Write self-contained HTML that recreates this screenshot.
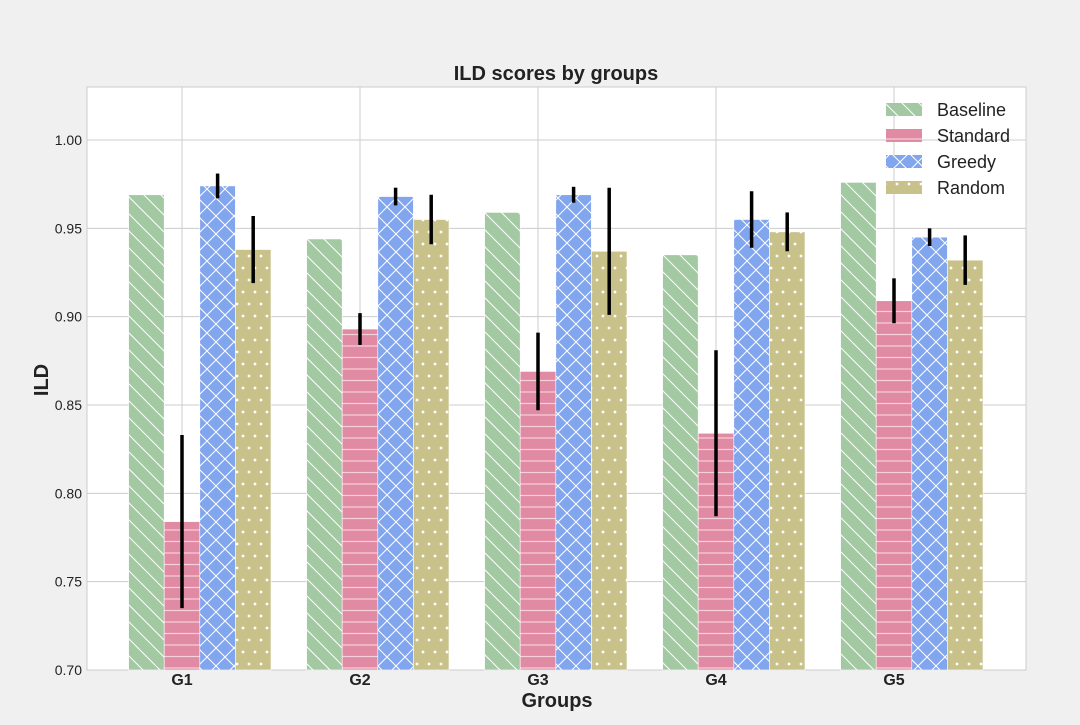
<!DOCTYPE html>
<html><head><meta charset="utf-8"><style>
body{margin:0;background:#f0f0f0;font-family:"Liberation Sans",sans-serif}
</style></head><body>
<svg width="1080" height="720" xmlns="http://www.w3.org/2000/svg">
<defs>
<pattern id="pB" width="17" height="17" patternUnits="userSpaceOnUse"><rect width="17" height="17" fill="#a3c9a3"/><path d="M0,0L17,17M-8.5,8.5L8.5,25.5M8.5,-8.5L25.5,8.5" stroke="#fff" stroke-width="1"/></pattern>
<pattern id="pS" width="12" height="11.5" patternUnits="userSpaceOnUse"><rect width="12" height="11.5" fill="#e08aa3"/><path d="M0,1L12,1" stroke="#f6d0da" stroke-width="1.2"/></pattern>
<pattern id="pG" width="18" height="18" patternUnits="userSpaceOnUse"><rect width="18" height="18" fill="#82a6ee"/><path d="M0,0L18,18M18,0L0,18" stroke="#fff" stroke-width="1"/></pattern>
<pattern id="pR" width="12" height="24" patternUnits="userSpaceOnUse"><rect width="12" height="24" fill="#c8c28a"/><circle cx="3" cy="4" r="1.4" fill="#fff"/><circle cx="9" cy="16" r="1.4" fill="#fff"/></pattern>
</defs>
<rect x="87" y="87" width="939" height="583" fill="#fff" stroke="#ccc"/>
<g id="grid"></g><g id="bars"></g><g id="errs"></g><g id="ticks"></g>
<text x="556" y="80" text-anchor="middle" font-size="20" font-weight="bold" fill="#222">ILD scores by groups</text>
<text x="557" y="707" text-anchor="middle" font-size="20" font-weight="bold" fill="#222">Groups</text>
<text transform="translate(48,380) rotate(-90)" text-anchor="middle" font-size="20" font-weight="bold" fill="#222">ILD</text>
<g id="legend"></g>
</svg>
<script>
const groups=["G1","G2","G3","G4","G5"];
const series=["Baseline","Standard","Greedy","Random"];
const baseline=[0.969,0.944,0.959,0.935,0.976];
const standard=[0.784,0.893,0.869,0.834,0.909];
const greedy=[0.974,0.968,0.969,0.955,0.945];
const random=[0.938,0.955,0.937,0.948,0.932];
const errBaseline=[0,0,0,0,0];
const errStandard=[0.049,0.009,0.022,0.047,0.0127];
const errGreedy=[0.007,0.005,0.0045,0.016,0.005];
const errRandom=[0.019,0.014,0.036,0.011,0.014];
const yTicks=[0.70,0.75,0.80,0.85,0.90,0.95,1.00];
const NS="http://www.w3.org/2000/svg";
const yMin=0.70,yMax=1.03,plotTop=87,plotBot=670;
const yS=v=>plotBot-(v-yMin)/(yMax-yMin)*(plotBot-plotTop);
const xC=i=>182+i*178;
const bw=35.6;
const vals=[baseline,standard,greedy,random],errs=[errBaseline,errStandard,errGreedy,errRandom];
const fills=["url(#pB)","url(#pS)","url(#pG)","url(#pR)"];
function mk(t,a,p){const e=document.createElementNS(NS,t);for(const k in a)e.setAttribute(k,a[k]);document.getElementById(p).appendChild(e);return e;}
yTicks.forEach(v=>{
 const l=mk("line",{x1:87,x2:1026,y1:yS(v),y2:yS(v),stroke:"#ccc"},"grid");
 
 
 const t=mk("text",{x:82,y:yS(v)+5,"text-anchor":"end","font-size":14,fill:"#222"},"ticks");t.textContent=v.toFixed(2);
 
 
});
groups.forEach((g,i)=>{
 const l=mk("line",{x1:xC(i),x2:xC(i),y1:87,y2:670,stroke:"#ccc"},"grid");
 
 
 const t=mk("text",{x:xC(i),y:685,"text-anchor":"middle","font-size":16,"font-weight":"bold",fill:"#222"},"ticks");t.textContent=g;
 
 
 vals.forEach((s,j)=>{
  const x=xC(i)-1.5*bw+j*bw,y=yS(s[i]);
  const r=mk("rect",{x:x,y:y,width:bw,height:plotBot-y,fill:fills[j],stroke:"#fff","stroke-width":0.6},"bars");
  
  
  const e=errs[j][i];
  if(e>0){const el=mk("line",{x1:x+bw/2,x2:x+bw/2,y1:yS(s[i]+e),y2:yS(s[i]-e),stroke:"#000","stroke-width":3.5},"errs");
  
  }
 });
});
series.forEach((s,j)=>{
 const y=110+j*26;
 const r=mk("rect",{x:886,y:y-7,width:36,height:13,fill:fills[j]},"legend");
 
 
 const t=mk("text",{x:937,y:y+6,"font-size":18,fill:"#222"},"legend");t.textContent=s;
 
 
});
</script>
</body></html>
